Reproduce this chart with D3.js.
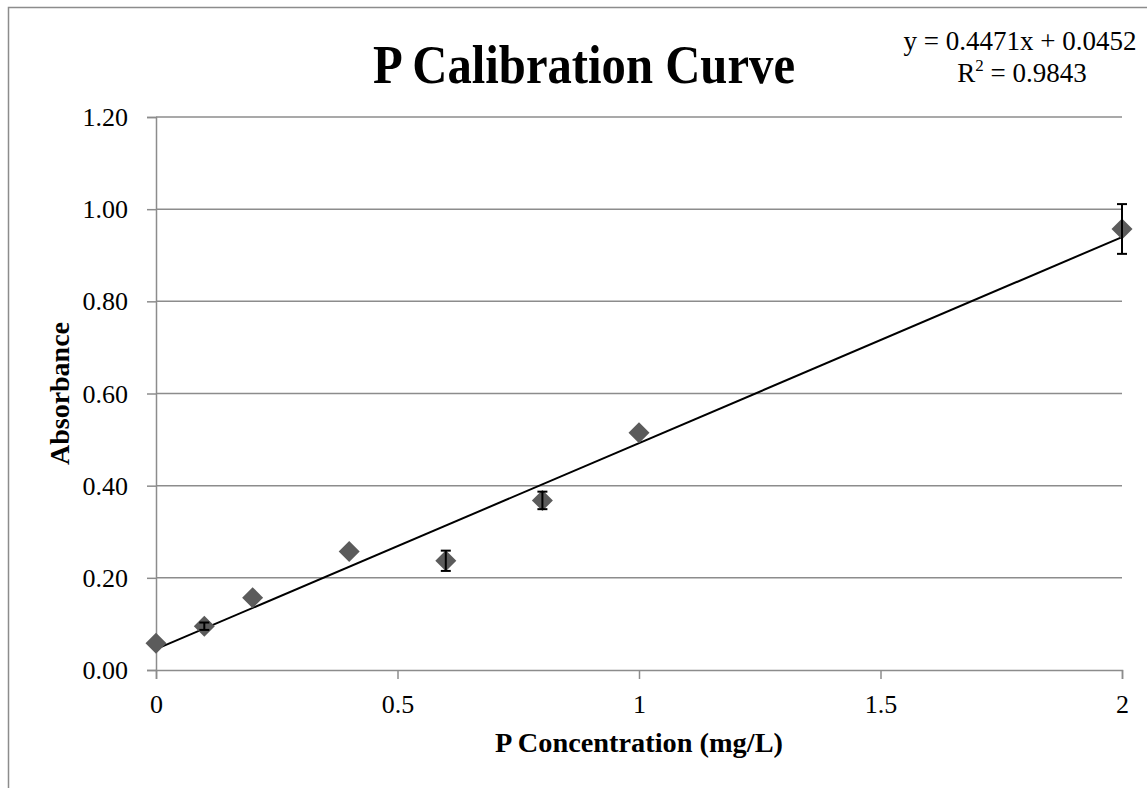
<!DOCTYPE html>
<html>
<head>
<meta charset="utf-8">
<script src="https://cdn.jsdelivr.net/npm/d3@7"></script>
<style>
  body { margin: 0; background: #fff; }
  text { font-family: "Liberation Serif", "Times New Roman", serif; fill: #000; }
</style>
</head>
<body>
<svg id="chart" width="1147" height="788"></svg>
<script>
// data
const concentration = [0, 0.1, 0.2, 0.4, 0.6, 0.8, 1, 2];
const absorbance = [0.058, 0.095, 0.157, 0.257, 0.237, 0.368, 0.515, 0.957];
const stdError = [0, 0.008, 0, 0, 0.022, 0.019, 0, 0.054];
const xTicks = [0, 0.5, 1, 1.5, 2];
const yTicks = [0, 0.2, 0.4, 0.6, 0.8, 1.0, 1.2];
const slope = 0.4471;
const intercept = 0.0452;
const rSquared = 0.9843;

// plot area
const plotLeft = 156, plotRight = 1122, plotTop = 117, plotBottom = 670;
const grey = "#8c8c8c";

const svg = d3.select("#chart");

// outer frame (runs off the right and bottom edge)
svg.append("rect")
    .attr("x", 8.5).attr("y", 7.5)
    .attr("width", 1200).attr("height", 900)
    .attr("fill", "none")
    .attr("stroke", grey)
    .attr("stroke-width", 1.5);

const x = d3.scaleLinear().domain([0, 2]).range([plotLeft, plotRight]);
const y = d3.scaleLinear().domain([0, 1.2]).range([plotBottom, plotTop]);

// horizontal gridlines
svg.append("g")
    .selectAll("line")
    .data(yTicks.slice(1))
    .join("line")
    .attr("x1", plotLeft).attr("x2", plotRight)
    .attr("y1", d => y(d)).attr("y2", d => y(d))
    .attr("stroke", grey)
    .attr("stroke-width", 1.5);

// y axis
const yAxis = svg.append("g")
    .attr("transform", `translate(${plotLeft},0)`)
    .call(d3.axisLeft(y).tickValues(yTicks).tickFormat(d3.format(".2f")).tickSize(9).tickPadding(19));
yAxis.select(".domain").attr("stroke", grey).attr("stroke-width", 1.5);
yAxis.selectAll(".tick line").attr("stroke", grey).attr("stroke-width", 1.5);
yAxis.selectAll(".tick text")
    .attr("font-family", "Liberation Serif")
    .attr("font-size", 26)
    .attr("dy", "0.33em");

// x axis
const xAxis = svg.append("g")
    .attr("transform", `translate(0,${plotBottom})`)
    .call(d3.axisBottom(x).tickValues(xTicks).tickFormat(d3.format("")).tickSize(9).tickPadding(16));
xAxis.select(".domain").attr("stroke", grey).attr("stroke-width", 1.5);
xAxis.selectAll(".tick line").attr("stroke", grey).attr("stroke-width", 1.5);
xAxis.selectAll(".tick text")
    .attr("font-family", "Liberation Serif")
    .attr("font-size", 26)
    .attr("dy", "0.71em");

// trendline
svg.append("line")
    .attr("x1", x(0)).attr("y1", y(intercept))
    .attr("x2", x(2)).attr("y2", y(slope * 2 + intercept))
    .attr("stroke", "#000")
    .attr("stroke-width", 2);

const points = concentration.map((c, i) => ({ c, a: absorbance[i], e: stdError[i] }));

// markers
svg.append("g")
    .selectAll("path")
    .data(points)
    .join("path")
    .attr("transform", d => `translate(${x(d.c)},${y(d.a)})`)
    .attr("d", "M0,-10.5L10.5,0L0,10.5L-10.5,0Z")
    .attr("fill", "#5b5b5b");

// error bars
const errs = svg.append("g")
    .selectAll("g")
    .data(points.filter(d => d.e > 0))
    .join("g")
    .attr("stroke", "#000")
    .attr("stroke-width", 2);
errs.append("line")
    .attr("x1", d => x(d.c)).attr("x2", d => x(d.c))
    .attr("y1", d => y(d.a - d.e)).attr("y2", d => y(d.a + d.e));
errs.append("line")
    .attr("x1", d => x(d.c) - 5).attr("x2", d => x(d.c) + 5)
    .attr("y1", d => y(d.a - d.e)).attr("y2", d => y(d.a - d.e));
errs.append("line")
    .attr("x1", d => x(d.c) - 5).attr("x2", d => x(d.c) + 5)
    .attr("y1", d => y(d.a + d.e)).attr("y2", d => y(d.a + d.e));

// title
svg.append("text")
    .attr("x", 584).attr("y", 83)
    .attr("text-anchor", "middle")
    .attr("font-weight", "bold")
    .attr("font-size", 54)
    .attr("textLength", 422)
    .attr("lengthAdjust", "spacingAndGlyphs")
    .text("P Calibration Curve");

// axis titles
svg.append("text")
    .attr("x", (plotLeft + plotRight) / 2).attr("y", 752)
    .attr("text-anchor", "middle")
    .attr("font-weight", "bold")
    .attr("font-size", 27)
    .attr("textLength", 288)
    .attr("lengthAdjust", "spacingAndGlyphs")
    .text("P Concentration (mg/L)");

svg.append("text")
    .attr("transform", `translate(69,${(plotTop + plotBottom) / 2}) rotate(-90)`)
    .attr("text-anchor", "middle")
    .attr("font-weight", "bold")
    .attr("font-size", 27)
    .attr("textLength", 143)
    .attr("lengthAdjust", "spacingAndGlyphs")
    .text("Absorbance");

// trendline equation
const eq = svg.append("g").attr("font-size", 27).attr("text-anchor", "middle");
eq.append("text")
    .attr("x", 1020).attr("y", 50)
    .text(`y = ${slope}x + ${intercept}`);
const r2 = eq.append("text")
    .attr("x", 1022).attr("y", 82);
r2.append("tspan").text("R");
r2.append("tspan").attr("font-size", 17).attr("dy", -11).text("2");
r2.append("tspan").attr("dy", 11).text(` = ${rSquared}`);
</script>
</body>
</html>
